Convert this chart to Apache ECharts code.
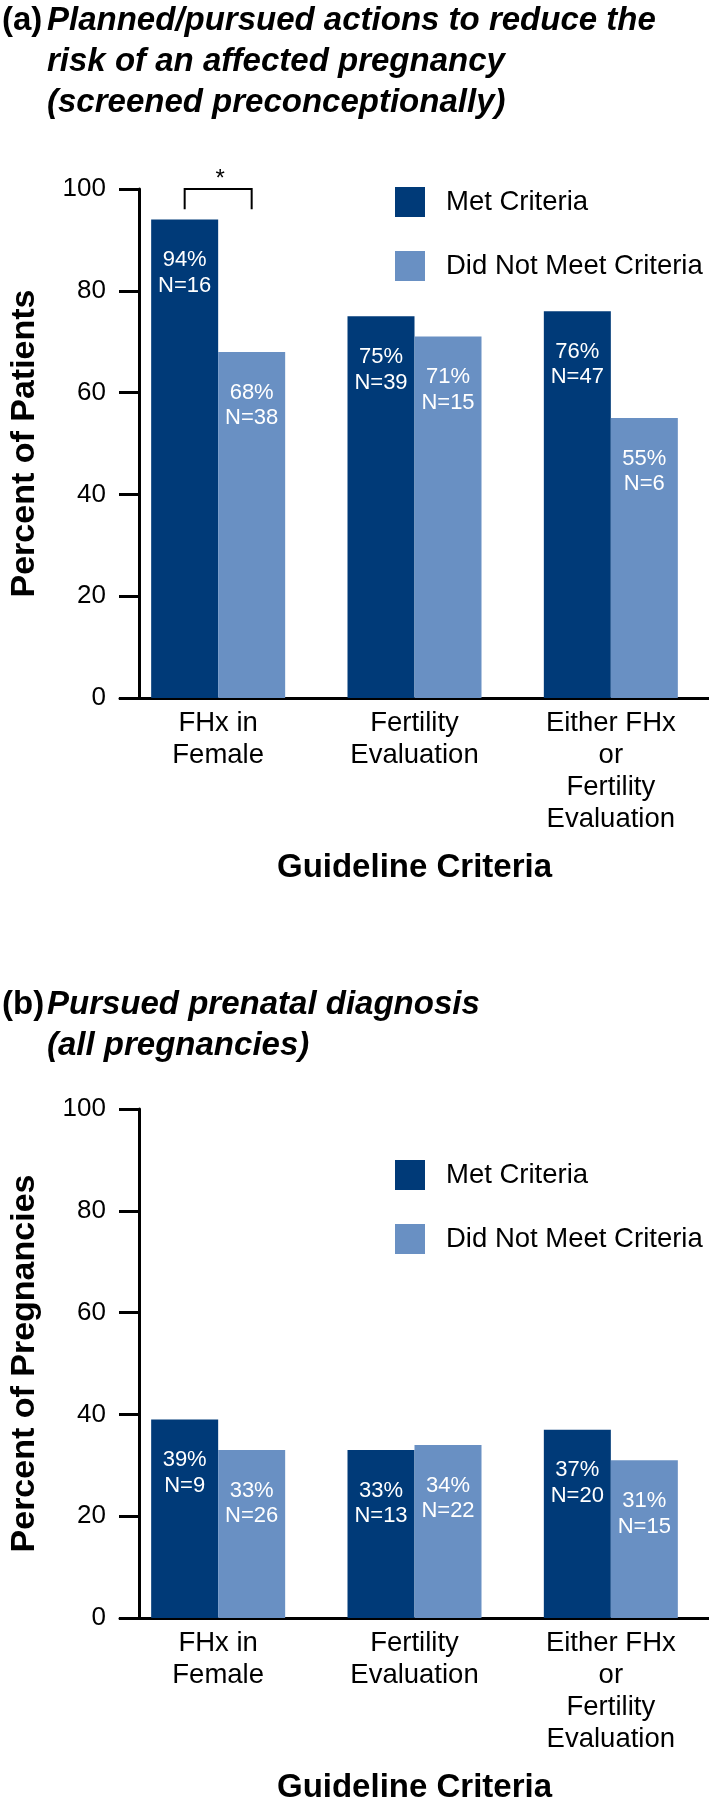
<!DOCTYPE html>
<html>
<head>
<meta charset="utf-8">
<script src="https://cdn.jsdelivr.net/npm/echarts@6/dist/echarts.min.js"></script>
<style>
  html, body { margin: 0; padding: 0; background: #ffffff; }
  #chart { width: 709px; height: 1810px; }
</style>
</head>
<body>
<div id="chart"></div>
<script>
// ---- data ----
const categories = ['FHx in\nFemale', 'Fertility\nEvaluation', 'Either FHx\nor\nFertility\nEvaluation'];
const seriesNames = ['Met Criteria', 'Did Not Meet Criteria'];

const patientsMet = [94, 75, 76];
const patientsMetN = [16, 39, 47];
const patientsNotMet = [68, 71, 55];
const patientsNotMetN = [38, 15, 6];

const pregMet = [39, 33, 37];
const pregMetN = [9, 13, 20];
const pregNotMet = [33, 34, 31];
const pregNotMetN = [26, 22, 15];

// significance bracket: [category index, top value, bottom value]
const sigBrackets = [[0, 100, 96]];

const titleA = ['Planned/pursued actions to reduce the', 'risk of an affected pregnancy', '(screened preconceptionally)'];
const titleB = ['Pursued prenatal diagnosis', '(all pregnancies)'];
const yNameA = 'Percent of Patients';
const yNameB = 'Percent of Pregnancies';
const xName = 'Guideline Criteria';

// ---- style ----
const FONT = "'Liberation Sans', Arial, Helvetica, sans-serif";
const DARK = '#003a78';
const LIGHT = '#6990c3';
const BAR_W = 67;
const GRID_LEFT = 117.6;
const GRID_W = 620.5;
const GRID_H = 509;
const TOP_A = 189;
const TOP_B = 1109;

const chart = echarts.init(document.getElementById('chart'), null, { renderer: 'canvas' });

function xAxisCfg(gridIndex) {
  return {
    type: 'category', gridIndex, data: categories,
    axisLine: { lineStyle: { color: '#000', width: 3 } },
    axisTick: { show: false },
    axisLabel: { interval: 0, margin: 9, color: '#000', fontSize: 27.5, lineHeight: 32, fontFamily: FONT },
    name: xName, nameLocation: 'middle', nameGap: 153.5,
    nameTextStyle: { color: '#000', fontSize: 33, fontWeight: 'bold', fontFamily: FONT }
  };
}
function yAxisCfg(gridIndex, name) {
  return {
    type: 'value', gridIndex, min: 0, max: 100, interval: 20, offset: -19,
    axisLine: { show: true, lineStyle: { color: '#000', width: 3 } },
    axisTick: { show: true, length: 20, lineStyle: { color: '#000', width: 3 } },
    splitLine: { show: false },
    axisLabel: { margin: 33, color: '#000', fontSize: 26, fontFamily: FONT },
    name, nameLocation: 'middle', nameGap: 97, nameRotate: 90,
    nameTextStyle: { color: '#000', fontSize: 34, fontWeight: 'bold', fontFamily: FONT }
  };
}
function barSeries(name, idx, values, ns, color) {
  return {
    type: 'bar', name, xAxisIndex: idx, yAxisIndex: idx, data: values,
    barWidth: BAR_W, barGap: '0%',
    itemStyle: { color },
    label: {
      show: true, position: 'insideTop', distance: 28,
      color: '#ffffff', fontSize: 22, lineHeight: 25.5, fontFamily: FONT,
      formatter: p => p.value + '%\nN=' + ns[p.dataIndex]
    },
    emphasis: { disabled: true },
    silent: true
  };
}
function legendCfg(top) {
  return {
    data: seriesNames, orient: 'vertical', left: 395, top, padding: 0,
    icon: 'rect', itemWidth: 30, itemHeight: 30, itemGap: 34,
    selectedMode: false,
    textStyle: { color: '#000', fontSize: 27.5, lineHeight: 30, fontFamily: FONT, padding: [0, 0, 0, 16] }
  };
}

const option = {
  animation: false,
  backgroundColor: '#ffffff',
  title: [
    { text: '(a)', left: 2, top: 0, padding: 0, textStyle: { fontSize: 33, fontWeight: 'bold', fontFamily: FONT, color: '#000', lineHeight: 41 } },
    { text: titleA.join('\n'), left: 47, top: 0, padding: 0, textStyle: { fontSize: 33, fontWeight: 'bold', fontStyle: 'italic', fontFamily: FONT, color: '#000', lineHeight: 41 } },
    { text: '(b)', left: 2, top: 984, padding: 0, textStyle: { fontSize: 33, fontWeight: 'bold', fontFamily: FONT, color: '#000', lineHeight: 41 } },
    { text: titleB.join('\n'), left: 47, top: 984, padding: 0, textStyle: { fontSize: 33, fontWeight: 'bold', fontStyle: 'italic', fontFamily: FONT, color: '#000', lineHeight: 41 } }
  ],
  legend: [legendCfg(187), legendCfg(1160)],
  grid: [
    { left: GRID_LEFT, top: TOP_A, width: GRID_W, height: GRID_H, containLabel: false },
    { left: GRID_LEFT, top: TOP_B, width: GRID_W, height: GRID_H, containLabel: false }
  ],
  xAxis: [xAxisCfg(0), xAxisCfg(1)],
  yAxis: [yAxisCfg(0, yNameA), yAxisCfg(1, yNameB)],
  series: [
    barSeries(seriesNames[0], 0, patientsMet, patientsMetN, DARK),
    barSeries(seriesNames[1], 0, patientsNotMet, patientsNotMetN, LIGHT),
    barSeries(seriesNames[0], 1, pregMet, pregMetN, DARK),
    barSeries(seriesNames[1], 1, pregNotMet, pregNotMetN, LIGHT),
    {
      type: 'custom', name: 'sig', xAxisIndex: 0, yAxisIndex: 0, data: sigBrackets,
      silent: true, clip: false, z: 5,
      renderItem: (params, api) => {
        const top = api.coord([api.value(0), api.value(1)]);
        const low = api.coord([api.value(0), api.value(2)]);
        const half = BAR_W / 2;
        return {
          type: 'group',
          children: [
            { type: 'polyline', shape: { points: [[top[0] - half, low[1]], [top[0] - half, top[1]], [top[0] + half, top[1]], [top[0] + half, low[1]]] },
              style: { stroke: '#000', lineWidth: 2, fill: null } },
            { type: 'text', x: top[0] + 2, y: top[1] - 10,
              style: { text: '*', fill: '#000', fontSize: 24, fontFamily: FONT, align: 'center', verticalAlign: 'middle' } }
          ]
        };
      }
    }
  ]
};
chart.setOption(option);
</script>
</body>
</html>
